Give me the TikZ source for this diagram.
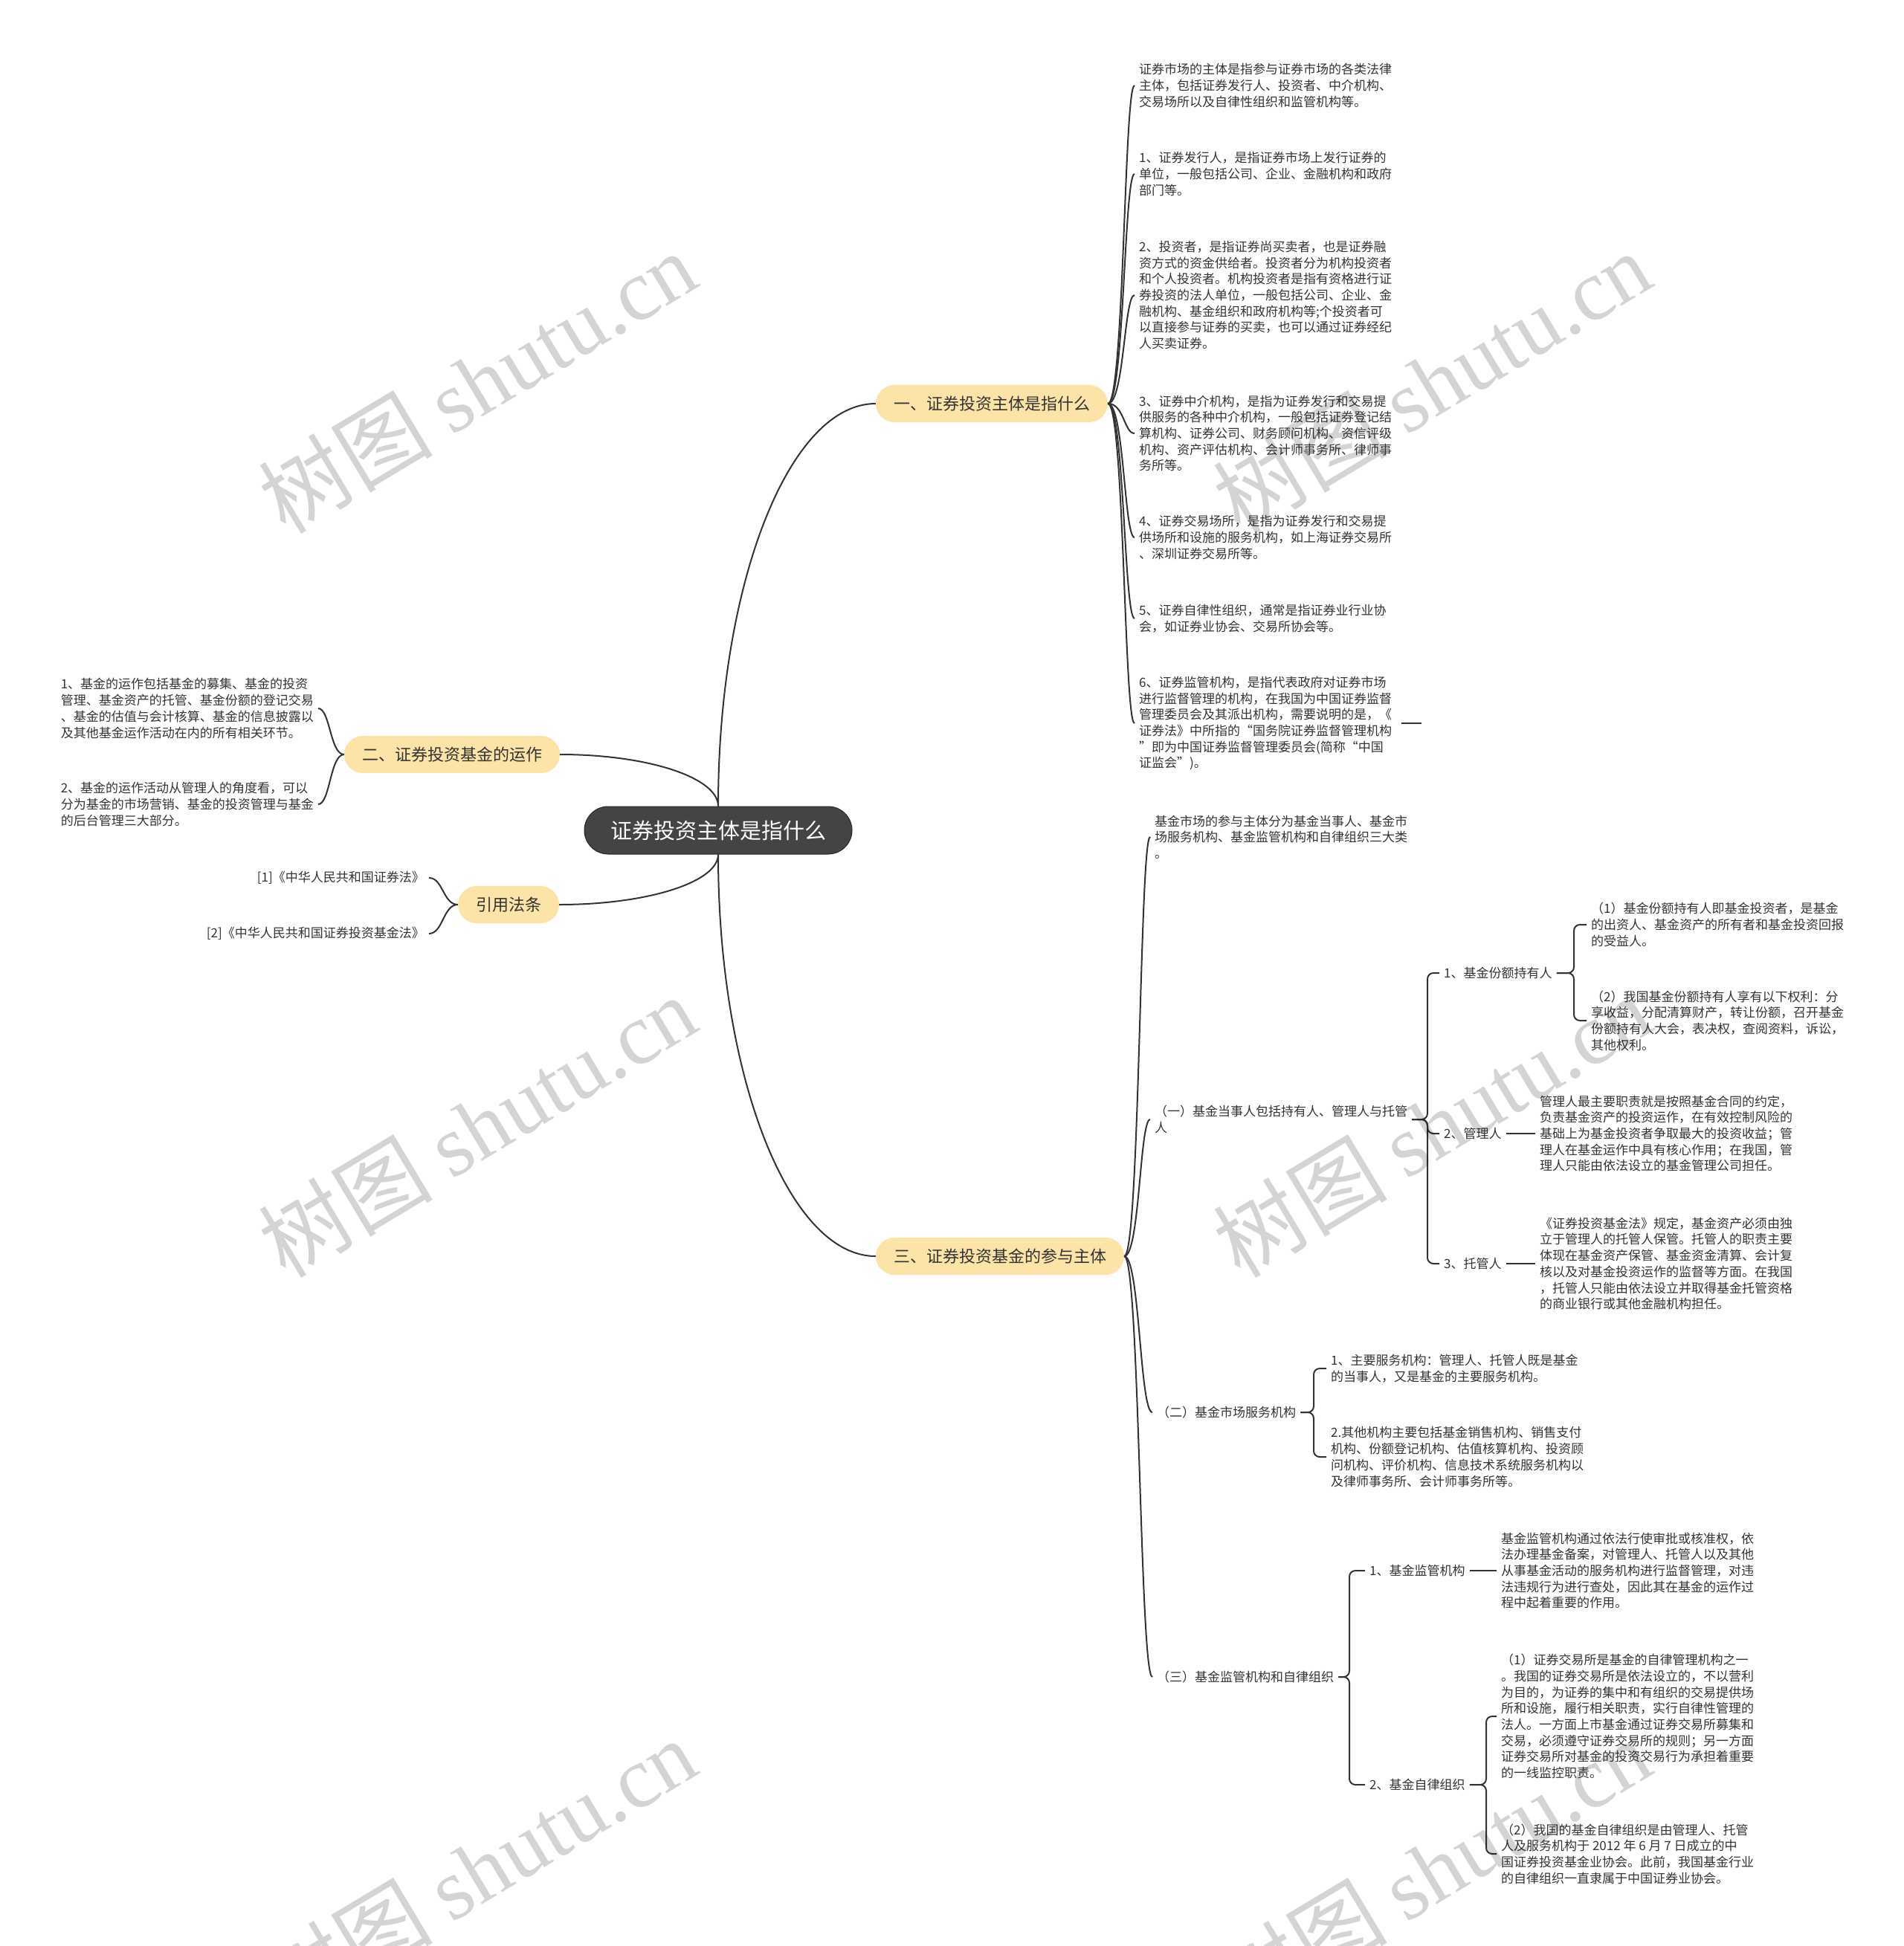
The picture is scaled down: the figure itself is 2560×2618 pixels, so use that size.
\documentclass[tikz,border=0pt]{standalone}
\usepackage{fontspec}
\setmainfont{Noto Sans CJK SC}
\newfontfamily\wmlatin{Liberation Serif}
\usetikzlibrary{backgrounds}
\definecolor{lineC}{HTML}{333333}
\definecolor{txtC}{HTML}{333333}
\definecolor{rootC}{HTML}{444444}
\definecolor{lvlC}{HTML}{FCE3A8}
\begin{document}
\begin{tikzpicture}[x=1pt,y=-1pt,
  rootbox/.style={fill=rootC, draw=black!85, line width=1pt, rounded corners=32pt, minimum height=64pt, inner xsep=35pt, text=white, font=\fontsize{29pt}{34pt}\selectfont},
  lvlbox/.style={fill=lvlC, rounded corners=25pt, minimum height=50pt, inner xsep=24pt, text=txtC, font=\fontsize{22pt}{26pt}\selectfont},
  leaf/.style={align=left, inner xsep=6pt, inner ysep=2pt, text=txtC, font=\fontsize{17pt}{21.7pt}\selectfont},
  leafr/.style={leaf, align=right},
  conn/.style={draw=lineC, line width=2pt},
  brk/.style={draw=lineC, line width=2pt, rounded corners=8pt},
  wm/.style={text=black, opacity=0.17, rotate=31, font=\fontsize{117pt}{125pt}\selectfont}
]
\useasboundingbox (0,0) rectangle (2560,2618);

% ---------- main nodes ----------
\node[rootbox] (root) at (966,1117) {证券投资主体是指什么};
\node[lvlbox] (n1) at (1334,543) {一、证券投资主体是指什么};
\node[lvlbox] (n2) at (608,1015) {二、证券投资基金的运作};
\node[lvlbox] (n3) at (684,1217) {引用法条};
\node[lvlbox] (n4) at (1345,1690) {三、证券投资基金的参与主体};

% ---------- branch one ----------
\node[leaf, anchor=west] (c1) at (1526,115) {证券市场的主体是指参与证券市场的各类法律\\主体，包括证券发行人、投资者、中介机构、\\交易场所以及自律性组织和监管机构等。};
\node[leaf, anchor=west] (c2) at (1526,234) {1、证券发行人，是指证券市场上发行证券的\\单位，一般包括公司、企业、金融机构和政府\\部门等。};
\node[leaf, anchor=west] (c3) at (1526,397) {2、投资者，是指证券尚买卖者，也是证券融\\资方式的资金供给者。投资者分为机构投资者\\和个人投资者。机构投资者是指有资格进行证\\券投资的法人单位，一般包括公司、企业、金\\融机构、基金组织和政府机构等;个投资者可\\以直接参与证券的买卖，也可以通过证券经纪\\人买卖证券。};
\node[leaf, anchor=west] (c4) at (1526,583) {3、证券中介机构，是指为证券发行和交易提\\供服务的各种中介机构，一般包括证券登记结\\算机构、证券公司、财务顾问机构、资信评级\\机构、资产评估机构、会计师事务所、律师事\\务所等。};
\node[leaf, anchor=west] (c5) at (1526,723) {4、证券交易场所，是指为证券发行和交易提\\供场所和设施的服务机构，如上海证券交易所\\、深圳证券交易所等。};
\node[leaf, anchor=west] (c6) at (1526,832) {5、证券自律性组织，通常是指证券业行业协\\会，如证券业协会、交易所协会等。};
\node[leaf, anchor=west] (c7) at (1526,973) {6、证券监管机构，是指代表政府对证券市场\\进行监督管理的机构，在我国为中国证券监督\\管理委员会及其派出机构，需要说明的是，《\\证券法》中所指的“国务院证券监督管理机构\\”即为中国证券监督管理委员会(简称“中国\\证监会”)。};
\coordinate (c7a) at (1885,973);
\coordinate (c7b) at (1912,973);

% ---------- branch two ----------
\node[leaf, anchor=east] (d1) at (428,953) {1、基金的运作包括基金的募集、基金的投资\\管理、基金资产的托管、基金份额的登记交易\\、基金的估值与会计核算、基金的信息披露以\\及其他基金运作活动在内的所有相关环节。};
\node[leaf, anchor=east] (d2) at (428,1082) {2、基金的运作活动从管理人的角度看，可以\\分为基金的市场营销、基金的投资管理与基金\\的后台管理三大部分。};

% ---------- laws ----------
\node[leafr, anchor=east] (e1) at (577,1181) {[1]《中华人民共和国证券法》};
\node[leafr, anchor=east] (e2) at (577,1256) {[2]《中华人民共和国证券投资基金法》};

% ---------- branch three ----------
\node[leaf, anchor=west] (f0) at (1547,1126) {基金市场的参与主体分为基金当事人、基金市\\场服务机构、基金监管机构和自律组织三大类\\。};
\node[leaf, anchor=west] (f1) at (1547,1506) {（一）基金当事人包括持有人、管理人与托管\\人};
\node[leaf, anchor=west] (f2) at (1550,1900) {（二）基金市场服务机构};
\node[leaf, anchor=west] (f3) at (1550,2256) {（三）基金监管机构和自律组织};

\node[leaf, anchor=west] (g1) at (1936,1309) {1、基金份额持有人};
\node[leaf, anchor=west] (g2) at (1936,1525) {2、管理人};
\node[leaf, anchor=west] (g3) at (1936,1700) {3、托管人};

\node[leaf, anchor=west] (h1) at (2134,1244) {（1）基金份额持有人即基金投资者，是基金\\的出资人、基金资产的所有者和基金投资回报\\的受益人。};
\node[leaf, anchor=west] (h2) at (2134,1373) {（2）我国基金份额持有人享有以下权利：分\\享收益，分配清算财产，转让份额，召开基金\\份额持有人大会，表决权，查阅资料，诉讼，\\其他权利。};

\node[leaf, anchor=west] (i2) at (2065,1525) {管理人最主要职责就是按照基金合同的约定，\\负责基金资产的投资运作，在有效控制风险的\\基础上为基金投资者争取最大的投资收益；管\\理人在基金运作中具有核心作用；在我国，管\\理人只能由依法设立的基金管理公司担任。};
\node[leaf, anchor=west] (i3) at (2065,1700) {《证券投资基金法》规定，基金资产必须由独\\立于管理人的托管人保管。托管人的职责主要\\体现在基金资产保管、基金资金清算、会计复\\核以及对基金投资运作的监督等方面。在我国\\，托管人只能由依法设立并取得基金托管资格\\的商业银行或其他金融机构担任。};

\node[leaf, anchor=west] (j1) at (1784,1841) {1、主要服务机构：管理人、托管人既是基金\\的当事人，又是基金的主要服务机构。};
\node[leaf, anchor=west] (j2) at (1784,1960) {2.其他机构主要包括基金销售机构、销售支付\\机构、份额登记机构、估值核算机构、投资顾\\问机构、评价机构、信息技术系统服务机构以\\及律师事务所、会计师事务所等。};

\node[leaf, anchor=west] (k1) at (1836,2113) {1、基金监管机构};
\node[leaf, anchor=west] (k2) at (1836,2401) {2、基金自律组织};

\node[leaf, anchor=west] (l1) at (2013,2113) {基金监管机构通过依法行使审批或核准权，依\\法办理基金备案，对管理人、托管人以及其他\\从事基金活动的服务机构进行监督管理，对违\\法违规行为进行查处，因此其在基金的运作过\\程中起着重要的作用。};

\node[leaf, anchor=west] (m1) at (2013,2309) {（1）证券交易所是基金的自律管理机构之一\\。我国的证券交易所是依法设立的，不以营利\\为目的，为证券的集中和有组织的交易提供场\\所和设施，履行相关职责，实行自律性管理的\\法人。一方面上市基金通过证券交易所募集和\\交易，必须遵守证券交易所的规则；另一方面\\证券交易所对基金的投资交易行为承担着重要\\的一线监控职责。};
\node[leaf, anchor=west] (m2) at (2013,2494) {（2）我国的基金自律组织是由管理人、托管\\人及服务机构于 2012 年 6 月 7 日成立的中\\国证券投资基金业协会。此前，我国基金行业\\的自律组织一直隶属于中国证券业协会。};

% spine points
\coordinate (sf1) at (1920,1506);
\coordinate (sg1) at (2117,1309);
\coordinate (sf2) at (1767,1900);
\coordinate (sf3) at (1815,2256);
\coordinate (sk2) at (1999,2401);

% ---------- connectors ----------
\begin{pgfonlayer}{background}
\draw[conn] (root.north) .. controls (966,786) and (1061,543) .. (n1.west);
\draw[conn] (root.north) .. controls (966,1046) and (871,1015) .. (n2.east);
\draw[conn] (root.south) .. controls (966,1187) and (870,1217) .. (n3.east);
\draw[conn] (root.south) .. controls (966,1448) and (1061,1690) .. (n4.west);
\end{pgfonlayer}

\foreach \c/\y in {c1/115,c2/234,c3/397,c4/583,c5/723,c6/832,c7/973}
  \draw[conn] (n1.east) .. controls (1512,543) and (1512,\y) .. (\c.west);
\draw[conn] (c7a) -- (c7b);

\foreach \c/\y in {d1/953,d2/1082}
  \draw[conn] (n2.west) .. controls (444,1015) and (444,\y) .. (\c.east);
\foreach \c/\y in {e1/1181,e2/1256}
  \draw[conn] (n3.west) .. controls (596,1217) and (596,\y) .. (\c.east);
\foreach \c/\y in {f0/1126,f1/1506,f2/1900,f3/2256}
  \draw[conn] (n4.east) .. controls (1533,1690) and (1533,\y) .. (\c.west);

\foreach \c in {g1,g2,g3}
  \draw[brk] (f1.east) -- (sf1) |- (\c.west);
\foreach \c in {h1,h2}
  \draw[brk] (g1.east) -- (sg1) |- (\c.west);
\draw[conn] (g2.east) -- (i2.west);
\draw[conn] (g3.east) -- (i3.west);
\foreach \c in {j1,j2}
  \draw[brk] (f2.east) -- (sf2) |- (\c.west);
\foreach \c in {k1,k2}
  \draw[brk] (f3.east) -- (sf3) |- (\c.west);
\draw[conn] (k1.east) -- (l1.west);
\foreach \c in {m1,m2}
  \draw[brk] (k2.east) -- (sk2) |- (\c.west);

% ---------- watermarks ----------
\node[wm] (wm1) at (642,514) {树图 {\wmlatin shutu.cn}};
\node[wm] (wm2) at (1926,514) {树图 {\wmlatin shutu.cn}};
\node[wm] (wm3) at (642,1515) {树图 {\wmlatin shutu.cn}};
\node[wm] (wm4) at (1926,1515) {树图 {\wmlatin shutu.cn}};
\node[wm] (wm5) at (642,2515) {树图 {\wmlatin shutu.cn}};
\node[wm] (wm6) at (1926,2515) {树图 {\wmlatin shutu.cn}};
\end{tikzpicture}
\end{document}
